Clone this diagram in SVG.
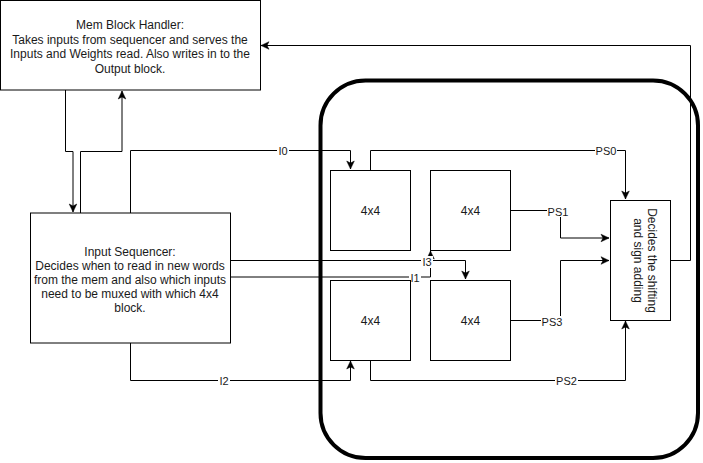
<svg xmlns="http://www.w3.org/2000/svg" width="703" height="463" viewBox="0 0 703 463">
<style>
.box{fill:#fff;stroke:#000;stroke-width:1}
.t{font-family:"Liberation Sans",Arial,sans-serif;font-size:12px;fill:#1a1a1a;text-anchor:middle}
.lbl{font-family:"Liberation Sans",Arial,sans-serif;font-size:11px;fill:#1a1a1a;text-anchor:middle}
.e{fill:none;stroke:#000;stroke-width:1}
.lb{fill:#fff}
</style>
<defs>
<marker id="a" markerUnits="userSpaceOnUse" markerWidth="10" markerHeight="10" viewBox="-9 -5 10 10" refX="0" refY="0" orient="auto">
<path d="M0,0 L-8,-3.8 L-6,0 L-8,3.8 Z" fill="#000" stroke="#000" stroke-width="0.5"/>
</marker>
</defs>
<rect x="320.5" y="80.5" width="377.5" height="377.5" rx="45" ry="45" fill="none" stroke="#000" stroke-width="4"/>
<g id="connectors">
<path class="e" d="M65.5,90 V151.5 H73 V212" marker-end="url(#a)"/>
<path class="e" d="M80.5,213 V151.5 H122 V91" marker-end="url(#a)"/>
<path class="e" d="M130.5,213 V150.5 H350.5 V169" marker-end="url(#a)"/>
<path class="e" d="M370.5,170 V150.5 H625.5 V199" marker-end="url(#a)"/>
<path class="e" d="M510,210.5 H560.5 V238 H609" marker-end="url(#a)"/>
<path class="e" d="M510,320.5 H560.5 V260.5 H609" marker-end="url(#a)"/>
<path class="e" d="M370.5,360 V380.5 H625.5 V321" marker-end="url(#a)"/>
<path class="e" d="M130.5,343 V380.5 H350.5 V361" marker-end="url(#a)"/>
<path class="e" d="M230,260.5 H465.5 V279" marker-end="url(#a)"/>
<path class="e" d="M230,277 H430.5 V251" marker-end="url(#a)"/>
<path class="e" d="M670,260.5 H690.5 V45.5 H261" marker-end="url(#a)"/>
<g id="labels">
<rect class="lb" x="277" y="144" width="12" height="12"/><text class="lbl" x="283" y="154.5">I0</text>
<rect class="lb" x="595" y="144" width="22" height="12"/><text class="lbl" x="606" y="154.5">PS0</text>
<rect class="lb" x="547" y="205" width="22" height="12"/><text class="lbl" x="558" y="215.5">PS1</text>
<rect class="lb" x="541" y="316" width="22" height="12"/><text class="lbl" x="552" y="326">PS3</text>
<rect class="lb" x="555" y="374" width="23" height="12"/><text class="lbl" x="566.5" y="384.5">PS2</text>
<rect class="lb" x="218" y="374" width="12" height="12"/><text class="lbl" x="224" y="384.5">I2</text>
<rect class="lb" x="421" y="256" width="12" height="12"/><text class="lbl" x="427" y="266">I3</text>
<rect class="lb" x="409" y="272" width="12" height="12"/><text class="lbl" x="415" y="282">I1</text>
</g>
</g>
<g id="mem">
<rect class="box" x="0.5" y="0.5" width="260" height="89.5"/>
<text class="t" x="130" y="29">Mem Block Handler:</text>
<text class="t" x="130" y="43.5">Takes inputs from sequencer and serves the</text>
<text class="t" x="130" y="58">Inputs and Weights read. Also writes in to the</text>
<text class="t" x="130" y="72.5">Output block.</text>
</g>
<g id="seq">
<rect class="box" x="30.5" y="213" width="200" height="130"/>
<text class="t" x="130" y="256">Input Sequencer:</text>
<text class="t" x="130" y="270">Decides when to read in new words</text>
<text class="t" x="130" y="284">from the mem and also which inputs</text>
<text class="t" x="130" y="298">need to be muxed with which 4x4</text>
<text class="t" x="130" y="312">block.</text>
</g>
<g id="b1"><rect class="box" x="330.5" y="170.5" width="80" height="80"/><text class="t" x="370.5" y="215">4x4</text></g>
<g id="b2"><rect class="box" x="430.5" y="170.5" width="80" height="80"/><text class="t" x="470.5" y="215">4x4</text></g>
<g id="b3"><rect class="box" x="330.5" y="280.5" width="80" height="80"/><text class="t" x="370.5" y="325">4x4</text></g>
<g id="b4"><rect class="box" x="430.5" y="280.5" width="80" height="80"/><text class="t" x="470.5" y="325">4x4</text></g>
<g id="decider">
<rect class="box" x="610.5" y="200.5" width="60" height="120"/>
<text class="t" transform="translate(645,260.5) rotate(90)"><tspan x="0" y="-3">Decides the shifting</tspan><tspan x="0" y="11">and sign adding</tspan></text>
</g>
</svg>
